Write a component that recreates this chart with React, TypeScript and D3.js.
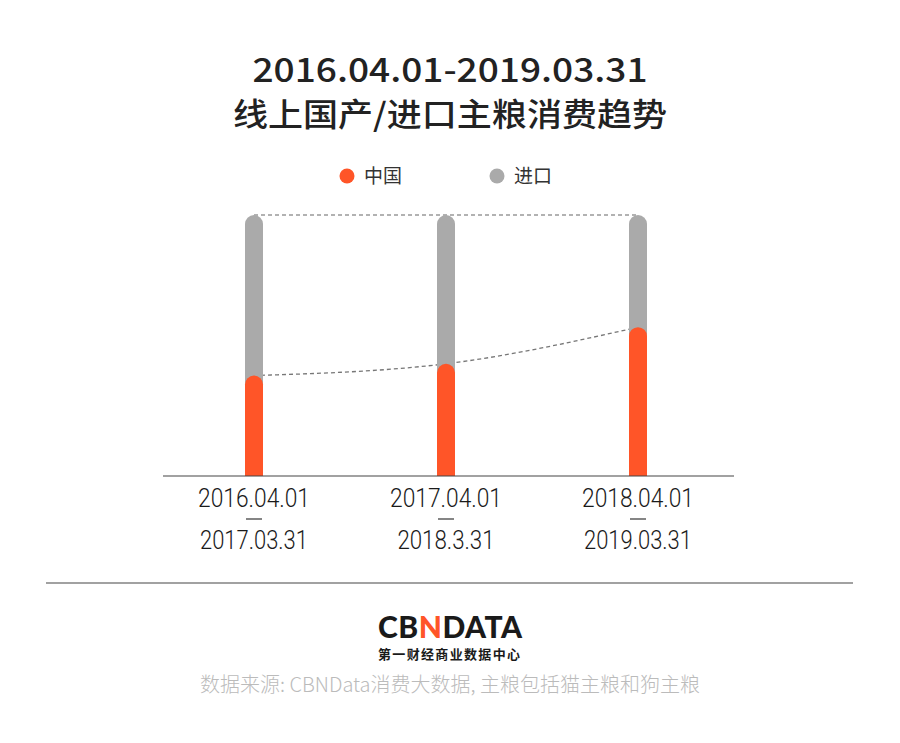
import React, { useEffect, useRef } from "react";
import * as d3 from "d3";

const periods = ["p1", "p2", "p3"];
const periodStart = ["2016.04.01", "2017.04.01", "2018.04.01"];
const periodEnd = ["2017.03.31", "2018.3.31", "2019.03.31"];
const chinaShare = [38.5, 43, 57];
const importShare = [61.5, 57, 43];
const seriesNames = ["中国", "进口"];

const ORANGE = "#FF5528";
const GREY = "#AAAAAA";

const App: React.FC = () => {
  const svgRef = useRef<SVGSVGElement>(null);

  useEffect(() => {
    const svg = d3.select(svgRef.current);
    svg.selectAll("*").remove();

    const W = 900;
    const font = "'Noto Sans CJK SC', 'Noto Sans', sans-serif";

    svg.append("rect").attr("width", W).attr("height", 743).attr("fill", "#fff");

    // title
    svg.append("text")
      .attr("x", W / 2).attr("y", 82)
      .attr("text-anchor", "middle")
      .attr("font-family", font).attr("font-weight", 500)
      .attr("font-size", 33).attr("fill", "#222")
      .attr("textLength", 395).attr("lengthAdjust", "spacingAndGlyphs")
      .text("2016.04.01-2019.03.31");
    svg.append("text")
      .attr("x", W / 2).attr("y", 126)
      .attr("text-anchor", "middle")
      .attr("font-family", font).attr("font-weight", 500)
      .attr("font-size", 32).attr("fill", "#222")
      .attr("textLength", 434).attr("lengthAdjust", "spacingAndGlyphs")
      .text("线上国产/进口主粮消费趋势");

    // legend
    const legendX = [347, 497];
    const colors = [ORANGE, GREY];
    seriesNames.forEach((n, i) => {
      svg.append("circle").attr("cx", legendX[i]).attr("cy", 176).attr("r", 7.5).attr("fill", colors[i]);
      svg.append("text")
        .attr("x", legendX[i] + 17).attr("y", 183)
        .attr("font-family", font).attr("font-size", 19).attr("fill", "#333")
        .text(n);
    });

    // chart
    const x = d3.scalePoint<string>().domain(periods).range([254, 638]);
    const y = d3.scaleLinear().domain([0, 100]).range([476, 215]);
    const bw = 18;
    const r = bw / 2;

    const topPts = periods.map((p, i) => [x(p)!, y(chinaShare[i] + importShare[i])] as [number, number]);
    const midPts = periods.map((p, i) => [x(p)!, y(chinaShare[i])] as [number, number]);

    svg.append("path")
      .attr("d", d3.line()(topPts))
      .attr("fill", "none").attr("stroke", "#999").attr("stroke-width", 1.3)
      .attr("stroke-dasharray", "4,3");
    svg.append("path")
      .attr("d", d3.line().curve(d3.curveMonotoneX)(midPts))
      .attr("fill", "none").attr("stroke", "#777").attr("stroke-width", 1.3)
      .attr("stroke-dasharray", "4,3");

    const roundTop = (cx: number, top: number, bottom: number) =>
      `M${cx - r},${bottom} L${cx - r},${top + r} A${r},${r} 0 0 1 ${cx + r},${top + r} L${cx + r},${bottom} Z`;

    periods.forEach((p, i) => {
      const cx = x(p)!;
      svg.append("path")
        .attr("d", roundTop(cx, y(chinaShare[i] + importShare[i]), y(0)))
        .attr("fill", GREY);
      svg.append("path")
        .attr("d", roundTop(cx, y(chinaShare[i]), y(0)))
        .attr("fill", ORANGE);
    });

    svg.append("line")
      .attr("x1", 163).attr("x2", 734).attr("y1", 476).attr("y2", 476)
      .attr("stroke", "#444").attr("stroke-width", 1.2);

    const labelFont = "Roboto, sans-serif";
    periods.forEach((p, i) => {
      const cx = x(p)!;
      const g = svg.append("g").attr("font-family", labelFont).attr("font-size", 26)
        .attr("fill", "#1a1a1a").attr("text-anchor", "middle").attr("font-weight", 300);
      g.append("text").attr("x", cx).attr("y", 507)
        .attr("textLength", 112).attr("lengthAdjust", "spacingAndGlyphs").text(periodStart[i]);
      g.append("line").attr("x1", cx - 8).attr("x2", cx + 8).attr("y1", 519).attr("y2", 519)
        .attr("stroke", "#333").attr("stroke-width", 1.2);
      g.append("text").attr("x", cx).attr("y", 549)
        .attr("textLength", periodEnd[i].length * 10.8).attr("lengthAdjust", "spacingAndGlyphs").text(periodEnd[i]);
    });

    // separator
    svg.append("line")
      .attr("x1", 46).attr("x2", 853).attr("y1", 583).attr("y2", 583)
      .attr("stroke", "#444").attr("stroke-width", 1.2);

    // logo
    const logo = svg.append("text")
      .attr("x", 378).attr("y", 638)
      .attr("font-family", "Lato, sans-serif").attr("font-weight", 900)
      .attr("font-size", 30).attr("fill", "#1a1a1a")
      .attr("textLength", 144).attr("lengthAdjust", "spacing");
    logo.append("tspan").text("CB");
    logo.append("tspan").attr("fill", ORANGE).text("N");
    logo.append("tspan").text("DATA");

    svg.append("text")
      .attr("x", 378).attr("y", 659)
      .attr("font-family", font).attr("font-weight", 700)
      .attr("font-size", 13).attr("fill", "#1a1a1a")
      .attr("textLength", 142).attr("lengthAdjust", "spacing")
      .text("第一财经商业数据中心");

    svg.append("text")
      .attr("x", W / 2).attr("y", 692)
      .attr("text-anchor", "middle")
      .attr("font-family", font).attr("font-weight", 300)
      .attr("font-size", 20).attr("fill", "#bbbbbb")
      .attr("textLength", 500).attr("lengthAdjust", "spacingAndGlyphs")
      .text("数据来源: CBNData消费大数据, 主粮包括猫主粮和狗主粮");
  }, []);

  return (
    <div style={{ position: "absolute", left: 0, top: 0 }}>
      <svg ref={svgRef} width={900} height={743} style={{ display: "block" }}></svg>
    </div>
  );
};

export default App;
